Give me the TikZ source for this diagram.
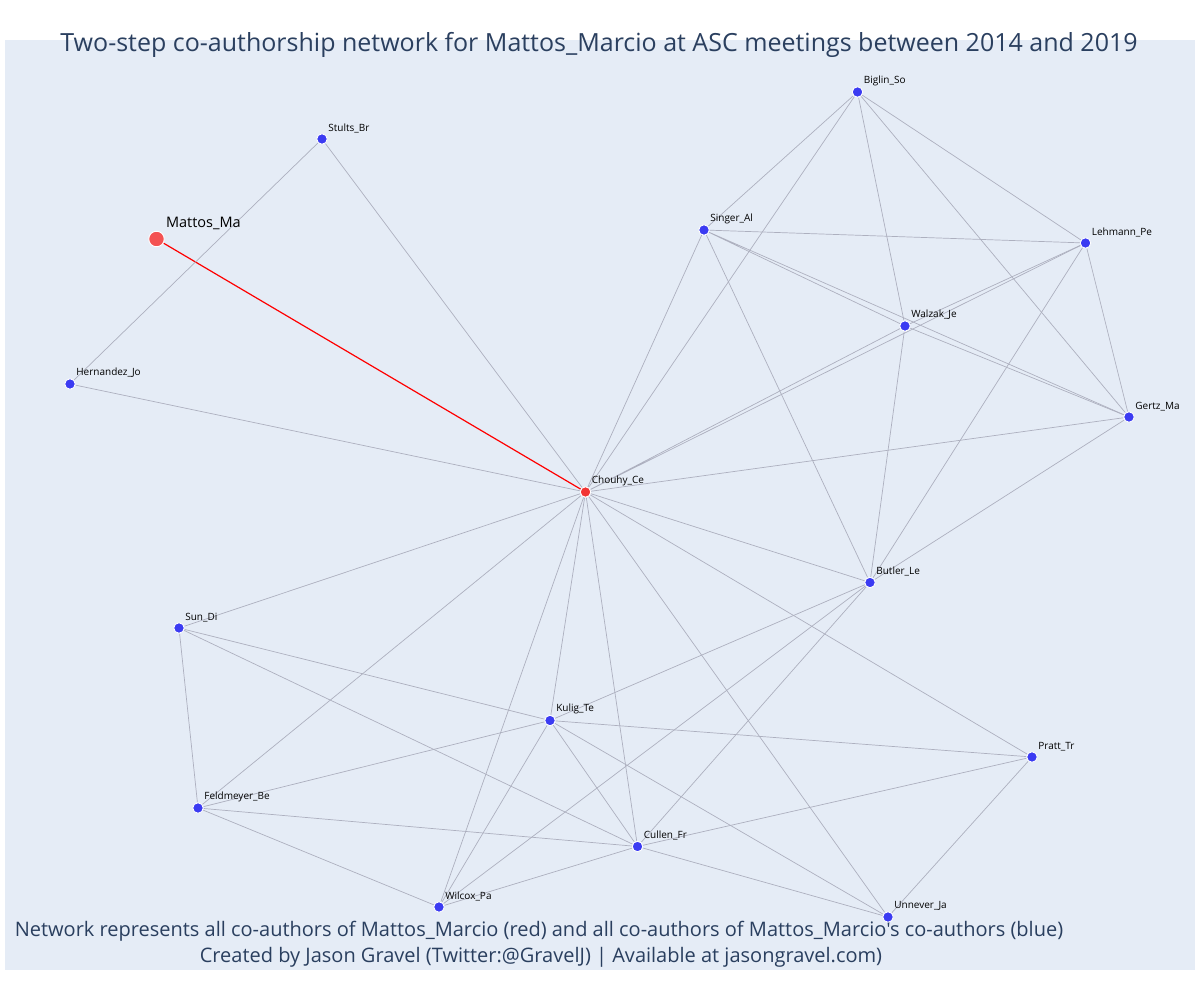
\documentclass[tikz,border=0pt]{standalone}
\usepackage{fontspec}
\setmainfont{Open Sans}[Ligatures=TeXOff]
\usepackage{xcolor}
\usetikzlibrary{backgrounds}

\definecolor{plotbg}{HTML}{E5ECF6}
\definecolor{titlecol}{HTML}{2A3F5F}
\definecolor{edgecol}{HTML}{ADB0BF}
\definecolor{coauth}{HTML}{3B3BF2}
\definecolor{seed}{HTML}{F23434}

\pgfdeclarelayer{edgelayer}
\pgfsetlayers{background,edgelayer,main}

\begin{document}
\begin{tikzpicture}[x=1pt,y=-1pt,
  author/.style={circle,fill=coauth,draw=white,line width=0.9pt,minimum size=10.5pt,inner sep=0pt},
  first/.style={author,fill=seed},
  lbl/.style={font=\fontsize{10}{12}\selectfont,inner sep=0pt,label distance=3pt},
  edge/.style={draw=edgecol,line width=0.7pt}]
\useasboundingbox (0,0) rectangle (1200,1000);
\begin{pgfonlayer}{background}
  \fill[plotbg] (5,40) rectangle (1195,970);
\end{pgfonlayer}

\node[text=titlecol,font=\fontsize{25}{29}\selectfont] (title) at (599,45)
  {Two-step co-authorship network for Mattos\_Marcio at ASC meetings between 2014 and 2019};
\node[text=titlecol,font=\fontsize{20}{24}\selectfont] (note) at (539,931)
  {Network represents all co-authors of Mattos\_Marcio (red) and all co-authors of Mattos\_Marcio's co-authors (blue)};
\node[text=titlecol,font=\fontsize{20}{24}\selectfont] (credit) at (541,957)
  {Created by Jason Gravel (Twitter:@GravelJ) | Available at jasongravel.com)};

% authors
\node[first,fill=seed!85!white,minimum size=15.5pt,
  label={[inner sep=0pt,label distance=5pt,font=\fontsize{14.5}{16}\selectfont]above right:Mattos\_Ma}]
  (mattos) at (156.5,239) {};
\node[first,label={[lbl]above right:Chouhy\_Ce}] (chouhy) at (585.5,492) {};
\node[author,label={[lbl]above right:Stults\_Br}] (stults) at (322,139) {};
\node[author,label={[lbl]above right:Hernandez\_Jo}] (hernandez) at (70,384) {};
\node[author,label={[lbl]above right:Biglin\_So}] (biglin) at (857.5,92) {};
\node[author,label={[lbl]above right:Singer\_Al}] (singer) at (704,230) {};
\node[author,label={[lbl]above right:Lehmann\_Pe}] (lehmann) at (1085.5,243) {};
\node[author,label={[lbl]above right:Walzak\_Je}] (walzak) at (905,326) {};
\node[author,label={[lbl]above right:Gertz\_Ma}] (gertz) at (1129,417) {};
\node[author,label={[lbl]above right:Butler\_Le}] (butler) at (870,582.5) {};
\node[author,label={[lbl]above right:Sun\_Di}] (sun) at (179,628) {};
\node[author,label={[lbl]above right:Kulig\_Te}] (kulig) at (550,720.5) {};
\node[author,label={[lbl]above right:Pratt\_Tr}] (pratt) at (1032,757) {};
\node[author,label={[lbl]above right:Feldmeyer\_Be}] (feldmeyer) at (198,808) {};
\node[author,label={[lbl]above right:Cullen\_Fr}] (cullen) at (637.5,846.5) {};
\node[author,label={[lbl]above right:Wilcox\_Pa}] (wilcox) at (439,907) {};
\node[author,label={[lbl]above right:Unnever\_Ja}] (unnever) at (888,917) {};

\begin{pgfonlayer}{edgelayer}
  \draw[red,line width=1.2pt] (mattos) -- (chouhy);

  \draw[edge] (stults) -- (hernandez) (stults) -- (chouhy) (hernandez) -- (chouhy);

  % around Chouhy_Ce
  \draw[edge] (chouhy) -- (singer) (chouhy) -- (biglin) (chouhy) -- (walzak)
    (chouhy) -- (lehmann) (chouhy) -- (gertz) (chouhy) -- (butler)
    (chouhy) -- (sun) (chouhy) -- (feldmeyer) (chouhy) -- (kulig)
    (chouhy) -- (cullen) (chouhy) -- (wilcox) (chouhy) -- (unnever)
    (chouhy) -- (pratt);

  % upper cluster
  \draw[edge] (biglin) -- (singer) (biglin) -- (walzak) (biglin) -- (lehmann)
    (biglin) -- (gertz);
  \draw[edge] (singer) -- (lehmann) (singer) -- (walzak) (singer) -- (gertz)
    (singer) -- (butler);
  \draw[edge] (lehmann) -- (walzak) (lehmann) -- (gertz) (lehmann) -- (butler);
  \draw[edge] (walzak) -- (gertz) (walzak) -- (butler) (gertz) -- (butler);

  % lower cluster
  \draw[edge] (butler) -- (kulig) (butler) -- (wilcox) (butler) -- (cullen);
  \draw[edge] (sun) -- (kulig) (sun) -- (cullen) (sun) -- (feldmeyer);
  \draw[edge] (kulig) -- (feldmeyer) (kulig) -- (pratt) (kulig) -- (cullen)
    (kulig) -- (wilcox) (kulig) -- (unnever);
  \draw[edge] (feldmeyer) -- (cullen) (feldmeyer) -- (wilcox);
  \draw[edge] (cullen) -- (wilcox) (cullen) -- (pratt) (cullen) -- (unnever);
  \draw[edge] (pratt) -- (unnever);
\end{pgfonlayer}
\end{tikzpicture}
\end{document}
